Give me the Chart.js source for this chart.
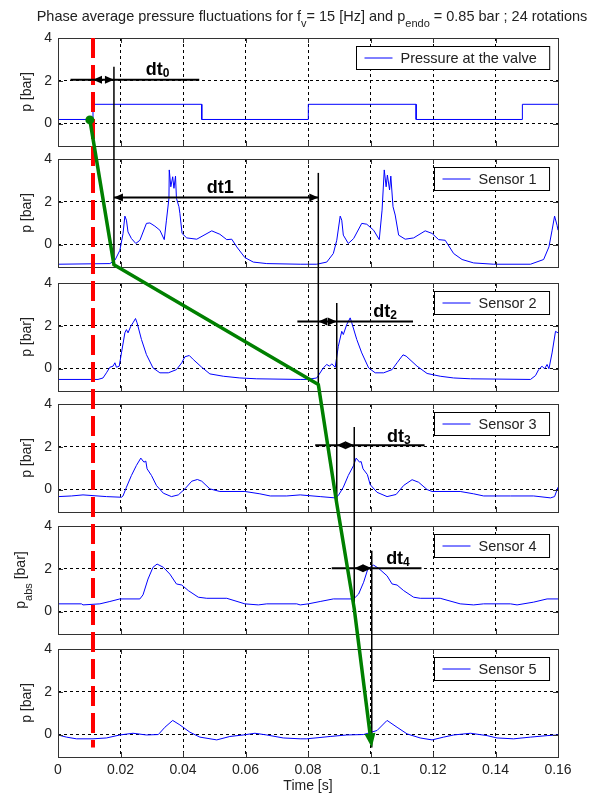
<!DOCTYPE html>
<html>
<head>
<meta charset="utf-8">
<script src="https://cdn.jsdelivr.net/npm/chart.js@4.4.0/dist/chart.umd.min.js"></script>
<style>
html, body { margin: 0; padding: 0; background: #fff; }
#wrap { position: relative; width: 611px; height: 795px; }
#wrap canvas { position: absolute; left: 0; top: 0; }
</style>
</head>
<body>
<div id="wrap"></div>
<script>
// ---- data ----
const xTicks = [0, 0.02, 0.04, 0.06, 0.08, 0.1, 0.12, 0.14, 0.16];
const xTickLabels = ['0', '0.02', '0.04', '0.06', '0.08', '0.1', '0.12', '0.14', '0.16'];
const yTicks = [0, 2, 4];
const yTickLabels = ['0', '2', '4'];
const yRange = [-1.05, 4];

const titleParts = [['Phase average pressure fluctuations for f', 0], ['v', 1], ['= 15 [Hz] and p', 0], ['endo', 1], [' = 0.85 bar ; 24 rotations', 0]];
const legendNames = ['Pressure at the valve', 'Sensor 1', 'Sensor 2', 'Sensor 3', 'Sensor 4', 'Sensor 5'];
const yTitles = [
    [['p [bar]', 0]], [['p [bar]', 0]], [['p [bar]', 0]], [['p [bar]', 0]],
    [['p', 0], ['abs', 1], [' [bar]', 0]],
    [['p [bar]', 0]]
];

const valveT = [0, 0.0112, 0.0112, 0.046, 0.046, 0.0801, 0.0801, 0.1146, 0.1146, 0.1486, 0.1486, 0.16];
const valveP = [0.19, 0.19, 0.9, 0.9, 0.19, 0.19, 0.9, 0.9, 0.19, 0.19, 0.9, 0.9];

const s1T = [0, 0.0166, 0.0182, 0.0198, 0.0208, 0.0214, 0.0219, 0.0224, 0.0235, 0.0249, 0.0262, 0.0283, 0.0294, 0.0310, 0.0326, 0.0340, 0.0347, 0.0355, 0.0356, 0.0361, 0.0367, 0.0371, 0.0376, 0.0379, 0.0387, 0.0390, 0.0397, 0.0412, 0.0444, 0.0492, 0.0518, 0.0540, 0.0556, 0.0572, 0.0598, 0.0625, 0.0668, 0.0775, 0.0828, 0.0860, 0.0881, 0.0892, 0.0903, 0.0908, 0.0913, 0.0929, 0.0946, 0.0972, 0.0988, 0.1010, 0.1028, 0.1037, 0.1044, 0.1050, 0.1054, 0.1061, 0.1065, 0.1072, 0.1079, 0.1090, 0.1111, 0.1138, 0.1175, 0.1197, 0.1218, 0.1239, 0.1266, 0.1293, 0.1330, 0.1394, 0.1512, 0.1554, 0.1571, 0.1581, 0.1589, 0.1597, 0.16];
const s1P = [-0.92, -0.89, -0.74, -0.27, 0.51, 1.33, 1.14, 0.59, 0.28, 0.05, 0.2, 0.99, 1.01, 0.86, 0.67, 0.23, 1.14, 2.16, 3.49, 2.7, 3.17, 2.63, 3.2, 2.16, 1.77, 1.46, 0.52, 0.31, 0.25, 0.64, 0.48, 0.23, 0.25, -0.11, -0.61, -0.82, -0.89, -0.92, -0.92, -0.82, -0.42, 0.2, 1.33, 1.14, 0.44, 0.05, 0.28, 0.99, 0.95, 0.67, 0.23, 1.61, 3.49, 2.7, 3.25, 2.55, 3.2, 1.77, 1.38, 0.44, 0.25, 0.31, 0.64, 0.52, 0.23, 0.2, -0.42, -0.7, -0.86, -0.92, -0.92, -0.7, -0.11, 0.67, 1.33, 0.9, 0.67];

const s2T = [0, 0.0128, 0.0144, 0.0155, 0.0166, 0.0176, 0.0182, 0.0187, 0.0196, 0.0203, 0.0214, 0.0219, 0.0224, 0.0233, 0.0240, 0.0248, 0.0253, 0.0267, 0.0283, 0.0304, 0.0326, 0.0353, 0.0379, 0.0396, 0.0406, 0.0420, 0.0433, 0.0460, 0.0486, 0.0529, 0.0582, 0.0636, 0.0775, 0.0796, 0.0828, 0.0849, 0.0860, 0.0869, 0.0876, 0.0887, 0.0897, 0.0908, 0.0913, 0.0924, 0.0935, 0.0940, 0.0956, 0.0972, 0.0994, 0.1015, 0.1042, 0.1069, 0.1085, 0.1104, 0.1114, 0.1149, 0.1181, 0.1223, 0.1266, 0.1320, 0.1512, 0.1528, 0.1538, 0.1549, 0.1557, 0.1565, 0.1571, 0.1581, 0.1592, 0.16];
const s2P = [-0.51, -0.51, -0.44, -0.2, 0.06, 0.11, 0.27, 0.06, 0.11, 0.73, 1.67, 1.82, 1.67, 1.98, 2.14, 2.34, 2.14, 1.36, 0.65, 0.03, -0.2, -0.2, -0.05, 0.27, 0.55, 0.61, 0.42, 0.06, -0.25, -0.36, -0.44, -0.48, -0.51, -0.51, -0.44, 0.03, 0.19, 0.11, 0.22, 0.06, 1.04, 1.74, 1.59, 2.06, 2.37, 2.14, 1.36, 0.73, 0.03, -0.2, -0.2, -0.05, 0.27, 0.64, 0.58, 0.11, -0.23, -0.36, -0.44, -0.48, -0.51, -0.33, -0.05, 0.11, -0.01, 0.19, -0.01, 0.73, 1.74, 1.67];

const s3T = [0, 0.0043, 0.0080, 0.0155, 0.0203, 0.0208, 0.0219, 0.0235, 0.0251, 0.0265, 0.0275, 0.0281, 0.0285, 0.0299, 0.0315, 0.0337, 0.0363, 0.0385, 0.0406, 0.0428, 0.0446, 0.0460, 0.0486, 0.0518, 0.0598, 0.0646, 0.0679, 0.0732, 0.0775, 0.0839, 0.0887, 0.0897, 0.0913, 0.0929, 0.0946, 0.0954, 0.0965, 0.0970, 0.0976, 0.0990, 0.0999, 0.1021, 0.1053, 0.1082, 0.1106, 0.1133, 0.1154, 0.1181, 0.1197, 0.1287, 0.1330, 0.1362, 0.1448, 0.1522, 0.1576, 0.1589, 0.16];
const s3P = [-0.33, -0.3, -0.25, -0.33, -0.36, -0.3, 0.11, 0.66, 1.13, 1.47, 1.28, 1.33, 0.97, 0.66, 0.19, -0.17, -0.33, -0.25, 0.03, 0.39, 0.47, 0.39, 0.03, -0.09, -0.09, -0.2, -0.3, -0.3, -0.25, -0.33, -0.39, -0.28, 0.11, 0.66, 1.13, 1.47, 1.28, 1.31, 0.97, 0.7, 0.23, -0.13, -0.33, -0.23, 0.19, 0.46, 0.34, 0, -0.09, -0.09, -0.2, -0.3, -0.3, -0.3, -0.39, -0.33, 0.11];

const s4T = [0, 0.0075, 0.0080, 0.0134, 0.0166, 0.0198, 0.0262, 0.0272, 0.0288, 0.0304, 0.0317, 0.0337, 0.0358, 0.0379, 0.0396, 0.0417, 0.0449, 0.0476, 0.0540, 0.0598, 0.0641, 0.0668, 0.0764, 0.0775, 0.0801, 0.0839, 0.0881, 0.0946, 0.0962, 0.0978, 0.0992, 0.1010, 0.1026, 0.1053, 0.1069, 0.1085, 0.1106, 0.1138, 0.1159, 0.1223, 0.1287, 0.1330, 0.1362, 0.1448, 0.1469, 0.1522, 0.1565, 0.16];
const s4P = [0.36, 0.36, 0.31, 0.36, 0.47, 0.59, 0.59, 0.78, 1.52, 2.07, 2.22, 2.07, 1.75, 1.29, 1.24, 0.98, 0.67, 0.62, 0.62, 0.36, 0.31, 0.36, 0.36, 0.31, 0.36, 0.47, 0.59, 0.59, 0.82, 1.37, 2.02, 2.17, 2.02, 1.67, 1.29, 1.24, 0.98, 0.67, 0.62, 0.62, 0.36, 0.31, 0.36, 0.36, 0.31, 0.44, 0.59, 0.59];

const s5T = [0, 0.0027, 0.0059, 0.0112, 0.0155, 0.0198, 0.0240, 0.0283, 0.0321, 0.0342, 0.0367, 0.0390, 0.0422, 0.0454, 0.0508, 0.0550, 0.0593, 0.0630, 0.0668, 0.0721, 0.0775, 0.0796, 0.0871, 0.0924, 0.0978, 0.1021, 0.1053, 0.1085, 0.1117, 0.1159, 0.1197, 0.1234, 0.1266, 0.1320, 0.1373, 0.1405, 0.1458, 0.1512, 0.1565, 0.16];
const s5P = [-0.02, -0.12, -0.2, -0.2, -0.16, -0.02, 0.06, -0.02, 0, 0.34, 0.66, 0.45, 0.11, -0.12, -0.25, -0.09, -0.02, 0.06, -0.02, -0.16, -0.2, -0.2, -0.09, -0.02, 0, 0.19, 0.66, 0.34, 0.03, -0.16, -0.25, -0.12, -0.02, 0.06, -0.05, -0.16, -0.2, -0.12, -0.05, -0.02];

// annotations (time / pressure of the panel they sit in)
const redLineT = 0.0112;
const redFrom = [0, 4];      // [panel, p]
const redTo = [5, -0.6];

const greenPanel = [0, 1, 2, 3, 4, 5];
const greenT = [0.0102, 0.0179, 0.0833, 0.0892, 0.0948, 0.1004];
const greenP = [0.17, -0.95, -0.75, -0.65, 0.13, -0.6];

const dtPanel = [0, 1, 2, 3, 4];
const dtLevel = [2.05, 2.2, 2.2, 2.07, 2.03];
const dtLineStart = [0.0040, 0.0179, 0.0766, 0.0823, 0.0876];
const dtLineEnd = [0.0452, 0.0833, 0.1136, 0.1173, 0.1163];
const dtFrom = [0.0112, 0.0179, 0.0833, 0.0892, 0.0948];
const dtTo = [0.0179, 0.0833, 0.0892, 0.0948, 0.1004];
const dtMarkTop = [2.66, 3.35, 3.07, 2.92, 2.84];
const dtMarkBottom = [-0.83, -0.83, -0.67, 0.13, -0.6];
const dtMain = ['dt', 'dt1', 'dt', 'dt', 'dt'];
const dtSub = ['0', '', '2', '3', '4'];
const dtLabelT = [0.0281, 0.0476, 0.1009, 0.1053, 0.1050];
const dtLabelP = [2.26, 2.4, 2.43, 2.2, 2.22];

const seriesT = [valveT, s1T, s2T, s3T, s4T, s5T];
const seriesP = [valveP, s1P, s2P, s3P, s4P, s5P];

// ---- layout ----
const W = 611, H = 795;
const plotLeft = 58, plotRight = 558;
const panelTop = [38, 159, 283, 404, 526, 649];
const panelH = 108;
const FONT = "'Liberation Sans', Arial, Helvetica, sans-serif";

Chart.defaults.font.family = FONT;
Chart.defaults.color = '#222';

function partsWidth(ctx, parts, size, subSize, weight) {
    let w = 0;
    parts.forEach(([txt, sub]) => {
        ctx.font = weight + ' ' + (sub ? subSize : size) + 'px ' + FONT;
        w += ctx.measureText(txt).width;
    });
    return w;
}

function drawParts(ctx, parts, x, y, size, subSize, weight, drop) {
    ctx.textAlign = 'left';
    ctx.textBaseline = 'alphabetic';
    parts.forEach(([txt, sub]) => {
        ctx.font = weight + ' ' + (sub ? subSize : size) + 'px ' + FONT;
        ctx.fillText(txt, x, sub ? y + drop : y);
        x += ctx.measureText(txt).width;
    });
}

// frame, inward ticks, legend box and y title of one panel
const panelDecor = {
    id: 'panelDecor',
    afterDraw(chart, args, opts) {
        const k = opts.k;
        const ctx = chart.ctx;
        const a = chart.chartArea;
        const xs = chart.scales.x, ys = chart.scales.y;
        ctx.save();
        ctx.strokeStyle = '#333';
        ctx.lineWidth = 1;
        ctx.setLineDash([]);
        ctx.beginPath();
        xTicks.forEach(t => {
            const x = Math.round(xs.getPixelForValue(t)) + 0.5;
            ctx.moveTo(x, a.bottom); ctx.lineTo(x, a.bottom - 5);
            ctx.moveTo(x, a.top); ctx.lineTo(x, a.top + 5);
        });
        yTicks.forEach(v => {
            const y = Math.round(ys.getPixelForValue(v)) + 0.5;
            ctx.moveTo(a.left, y); ctx.lineTo(a.left + 5, y);
            ctx.moveTo(a.right, y); ctx.lineTo(a.right - 5, y);
        });
        ctx.stroke();
        ctx.strokeRect(Math.round(a.left) + 0.5, Math.round(a.top) + 0.5, Math.round(a.right - a.left), Math.round(a.bottom - a.top));

        // legend
        ctx.font = '14.5px ' + FONT;
        const tw = ctx.measureText(legendNames[k]).width;
        const bw = 8 + 28 + 8 + tw + 13;
        const bx = Math.round(a.right - 9 - bw) + 0.5;
        const by = Math.round(a.top + 8) + 0.5;
        const bh = 23;
        ctx.fillStyle = '#fff';
        ctx.fillRect(bx, by, bw, bh);
        ctx.strokeStyle = '#000';
        ctx.strokeRect(bx, by, bw, bh);
        ctx.strokeStyle = '#0000ff';
        ctx.beginPath();
        ctx.moveTo(bx + 8, by + bh / 2); ctx.lineTo(bx + 36, by + bh / 2);
        ctx.stroke();
        ctx.fillStyle = '#222';
        ctx.textAlign = 'left';
        ctx.textBaseline = 'alphabetic';
        ctx.fillText(legendNames[k], bx + 44, by + bh / 2 + 5);

        // y title
        const parts = yTitles[k];
        const w = partsWidth(ctx, parts, 14, 11, 'normal');
        const cy = (a.top + a.bottom) / 2;
        const baseX = parts.length > 1 ? 25 : 31;
        ctx.translate(baseX, cy);
        ctx.rotate(-Math.PI / 2);
        ctx.fillStyle = '#222';
        drawParts(ctx, parts, -w / 2, 0, 14, 11, 'normal', 7);
        ctx.restore();

        if (k === 0) {
            ctx.save();
            ctx.fillStyle = '#222';
            const tw2 = partsWidth(ctx, titleParts, 14.5, 11, 'normal');
            drawParts(ctx, titleParts, 312 - tw2 / 2, 21, 14.5, 11, 'normal', 6);
            ctx.restore();
        }
    }
};

const charts = [];

// red marker, dt arrows and green path, drawn over every panel
const overlay = {
    id: 'overlay',
    afterDraw(chart) {
        const panels = charts.concat([chart]);
        const px = (k, t) => panels[k].scales.x.getPixelForValue(t);
        const py = (k, p) => panels[k].scales.y.getPixelForValue(p);
        const ctx = chart.ctx;
        const line = (x1, y1, x2, y2) => { ctx.beginPath(); ctx.moveTo(x1, y1); ctx.lineTo(x2, y2); ctx.stroke(); };
        const head = (x, y, dir) => {
            ctx.beginPath();
            ctx.moveTo(x, y);
            ctx.lineTo(x - dir * 9, y - 4);
            ctx.lineTo(x - dir * 9, y + 4);
            ctx.closePath();
            ctx.fill();
        };
        ctx.save();

        ctx.strokeStyle = '#ff0000';
        ctx.lineWidth = 4;
        ctx.setLineDash([20, 7]);
        const rx = px(0, redLineT);
        line(rx, py(redFrom[0], redFrom[1]), rx, py(redTo[0], redTo[1]));
        ctx.setLineDash([]);

        ctx.strokeStyle = '#000';
        ctx.fillStyle = '#000';
        dtPanel.forEach((k, i) => {
            const y = py(k, dtLevel[i]);
            ctx.lineWidth = 2;
            line(px(k, dtLineStart[i]), y, px(k, dtLineEnd[i]), y);
            const xv = px(k, dtTo[i]);
            ctx.lineWidth = 1.5;
            line(xv, py(k, dtMarkTop[i]), xv, py(k + 1, dtMarkBottom[i]));
            head(px(k, dtFrom[i]), y, -1);
            head(xv, y, 1);
            const parts = [[dtMain[i], 0], [dtSub[i], 1]];
            drawParts(ctx, parts, px(k, dtLabelT[i]), py(k, dtLabelP[i]), 18, 12, 'bold', 2);
        });

        // green path
        const pts = greenPanel.map((k, i) => [px(k, greenT[i]), py(k, greenP[i])]);
        const n = pts.length;
        const [ex, ey] = pts[n - 1];
        const [sx, sy] = pts[n - 2];
        const ang = Math.atan2(ey - sy, ex - sx);
        const hl = 14, hw = 5.5;
        ctx.strokeStyle = '#008000';
        ctx.fillStyle = '#008000';
        ctx.lineWidth = 3.5;
        ctx.lineJoin = 'round';
        ctx.beginPath();
        pts.forEach(([x, y], i) => {
            if (i === n - 1) ctx.lineTo(ex - Math.cos(ang) * hl * 0.8, ey - Math.sin(ang) * hl * 0.8);
            else if (i === 0) ctx.moveTo(x, y);
            else ctx.lineTo(x, y);
        });
        ctx.stroke();
        ctx.beginPath();
        ctx.moveTo(ex, ey);
        ctx.lineTo(ex - Math.cos(ang) * hl - Math.sin(ang) * hw, ey - Math.sin(ang) * hl + Math.cos(ang) * hw);
        ctx.lineTo(ex - Math.cos(ang) * hl + Math.sin(ang) * hw, ey - Math.sin(ang) * hl - Math.cos(ang) * hw);
        ctx.closePath();
        ctx.fill();
        ctx.beginPath();
        ctx.arc(pts[0][0], pts[0][1], 4.5, 0, Math.PI * 2);
        ctx.fill();

        ctx.restore();
    }
};

function makePanel(k) {
    const last = k === seriesT.length - 1;
    const canvas = document.createElement('canvas');
    canvas.width = W;
    canvas.height = H;
    document.getElementById('wrap').appendChild(canvas);
    const points = seriesT[k].map((t, i) => ({ x: t, y: seriesP[k][i] }));
    return new Chart(canvas.getContext('2d'), {
        type: 'line',
        data: {
            datasets: [{
                label: legendNames[k],
                data: points,
                borderColor: '#0000ff',
                borderWidth: 1,
                pointRadius: 0,
                tension: 0,
                fill: false
            }]
        },
        options: {
            responsive: false,
            animation: false,
            devicePixelRatio: 1,
            layout: {
                padding: {
                    left: 0,
                    right: W - plotRight,
                    top: panelTop[k],
                    bottom: last ? 0 : H - panelTop[k] - panelH
                }
            },
            plugins: {
                legend: { display: false },
                tooltip: { enabled: false },
                panelDecor: { k: k }
            },
            scales: {
                x: {
                    type: 'linear',
                    min: xTicks[0],
                    max: xTicks[xTicks.length - 1],
                    afterBuildTicks: s => { s.ticks = xTicks.map(v => ({ value: v })); },
                    afterFit: s => { s.height = last ? H - panelTop[k] - panelH : 0; },
                    grid: { color: '#000', lineWidth: 1, drawTicks: false },
                    border: { display: false, dash: [3, 3] },
                    ticks: {
                        display: last,
                        padding: 5,
                        font: { size: 14 },
                        color: '#222',
                        maxRotation: 0,
                        callback: (v, i) => xTickLabels[i]
                    },
                    title: {
                        display: last,
                        text: 'Time [s]',
                        font: { size: 14 },
                        color: '#222',
                        padding: { top: 0, bottom: 0 }
                    }
                },
                y: {
                    type: 'linear',
                    min: yRange[0],
                    max: yRange[1],
                    afterBuildTicks: s => { s.ticks = yTicks.map(v => ({ value: v })); },
                    afterFit: s => { s.width = plotLeft; },
                    grid: { color: '#000', lineWidth: 1, drawTicks: false },
                    border: { display: false, dash: [3, 3] },
                    ticks: {
                        padding: 6,
                        font: { size: 14 },
                        color: '#222',
                        callback: (v, i) => yTickLabels[i]
                    }
                }
            }
        },
        plugins: last ? [panelDecor, overlay] : [panelDecor]
    });
}

seriesT.forEach((t, k) => charts.push(makePanel(k)));
</script>
</body>
</html>
